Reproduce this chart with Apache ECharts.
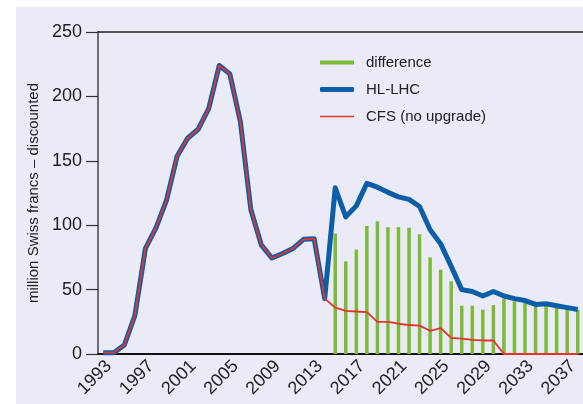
<!DOCTYPE html>
<html>
<head>
<meta charset="utf-8">
<script src="https://cdn.jsdelivr.net/npm/echarts@6/dist/echarts.min.js"></script>
<style>
  html, body { margin: 0; padding: 0; background: #ffffff; }
  #chart { width: 583px; height: 404px; }
</style>
</head>
<body>
<div id="chart"></div>
<script>
// Years on the horizontal axis
const years = [];
for (let y = 1993; y <= 2038; y++) years.push(String(y));

// Operating cost, million Swiss francs (discounted)
const hlLhc = [
  1, 1, 7, 30, 82, 98, 119.5, 153.5, 167.5, 174.5, 190.5, 224, 217.5, 180.5, 112, 84.5, 74.5, 78, 82, 89, 89.5, 43,
  129, 106.5, 115, 132.5, 129.5, 125.5, 122, 120, 114.5, 96.5, 85.5, 68, 50, 48.5, 45, 48.5, 45, 43, 41.5, 38.5, 39, 37.5, 36, 34.5
];
const cfs = [
  1, 1, 7, 30, 82, 98, 119.5, 153.5, 167.5, 174.5, 190.5, 224, 217.5, 180.5, 112, 84.5, 74.5, 78, 82, 89, 89.5, 43,
  36, 33.5, 33, 32.5, 25, 25, 23.5, 22.5, 22, 18, 20, 12.5, 12, 11, 10.5, 10.5, 0, 0, 0, 0, 0, 0, 0, 0
];
const difference = [
  null, null, null, null, null, null, null, null, null, null, null, null, null, null, null, null, null, null, null, null, null, null,
  93.5, 72, 81, 99.5, 103, 98.5, 98.5, 98, 93, 75, 65.5, 56.5, 37.5, 37.5, 34.5, 38, 43, 41, 39.5, 38, 37.5, 36.5, 35.5, 34.5
];
const yTicks = { min: 0, max: 250, step: 50 };

const textColor = '#222222';
const font = "'Liberation Sans', Arial, sans-serif";
const green = '#7cbb37';
const blue = '#0c5ea9';
const red = '#e8332a';

const chart = echarts.init(document.getElementById('chart'), null, { renderer: 'canvas' });

function legendFor(name, top, icon, h) {
  return {
    data: [{ name: name, icon: icon }],
    left: 315, top: top,
    itemWidth: 34, itemHeight: h,
    selectedMode: false,
    textStyle: { fontFamily: font, fontSize: 15, color: textColor, padding: [0, 0, 0, 7] }
  };
}

chart.setOption({
  animation: false,
  backgroundColor: 'transparent',
  graphic: [{
    type: 'rect', z: -10, silent: true,
    shape: { x: 16, y: 7, width: 567, height: 397 },
    style: { fill: '#ebebf7' }
  }],
  grid: { left: 98, top: 32, width: 487.6, height: 322, containLabel: false },
  legend: [
    legendFor('difference', 50, 'rect', 4),
    legendFor('HL-LHC', 77, 'roundRect', 5),
    legendFor('CFS (no upgrade)', 104, 'rect', 1.6)
  ],
  xAxis: [{
    type: 'category',
    data: years,
    boundaryGap: true,
    position: 'bottom',
    axisLine: { lineStyle: { color: '#111111', width: 2 } },
    axisTick: { show: false },
    axisLabel: {
      interval: 3, rotate: 45, margin: 15,
      padding: [0, -8, 0, 0],
      fontFamily: font, fontSize: 18, color: textColor
    },
    splitLine: { show: false }
  }, {
    type: 'category',
    data: years,
    position: 'top',
    axisLine: { lineStyle: { color: '#222222', width: 1.5 } },
    axisTick: { show: false },
    axisLabel: { show: false },
    splitLine: { show: false }
  }],
  yAxis: {
    type: 'value',
    min: yTicks.min, max: yTicks.max, interval: yTicks.step,
    name: 'million Swiss francs \u2013 discounted',
    nameLocation: 'middle', nameRotate: 90, nameGap: 51,
    nameTextStyle: { fontFamily: font, fontSize: 15, color: textColor },
    axisLine: { show: true, lineStyle: { color: '#6e6e6e', width: 2 } },
    axisTick: { show: true, length: 12, lineStyle: { color: '#333333', width: 1.2 } },
    axisLabel: { margin: 16, fontFamily: font, fontSize: 18, color: textColor },
    splitLine: { show: false }
  },
  series: [{
    name: 'difference',
    type: 'bar',
    data: difference,
    barWidth: 3.5,
    itemStyle: { color: green },
    z: 1
  }, {
    name: 'HL-LHC',
    type: 'line',
    data: hlLhc,
    color: blue,
    showSymbol: false,
    symbol: 'none',
    lineStyle: { color: blue, width: 5, join: 'round' },
    z: 2
  }, {
    name: 'CFS (no upgrade)',
    type: 'line',
    data: cfs,
    color: red,
    showSymbol: false,
    symbol: 'none',
    lineStyle: { color: red, width: 1.8 },
    z: 3
  }]
});
</script>
</body>
</html>
